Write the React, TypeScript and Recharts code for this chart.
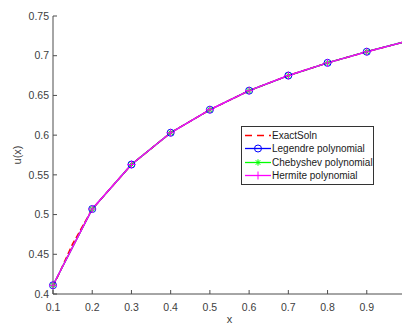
import React from 'react';
import { LineChart, Line, XAxis, YAxis, Legend } from 'recharts';

// x positions of the collocation points
const xPoints = [0.1, 0.2, 0.3, 0.4, 0.5, 0.6, 0.7, 0.8, 0.9, 1.0];
const legendreVals = [0.411, 0.507, 0.563, 0.603, 0.632, 0.656, 0.675, 0.691, 0.705, 0.718];
const chebyshevVals = [0.411, 0.507, 0.563, 0.603, 0.632, 0.656, 0.675, 0.691, 0.705, 0.718];
const hermiteVals = [0.411, 0.507, 0.563, 0.603, 0.632, 0.656, 0.675, 0.691, 0.705, 0.718];

// exact solution, sampled a bit finer near the start
const exactX = [0.1, 0.15, 0.2, 0.3, 0.4, 0.5, 0.6, 0.7, 0.8, 0.9, 1.0];
const exactVals = [0.409, 0.463, 0.507, 0.563, 0.603, 0.632, 0.656, 0.675, 0.691, 0.705, 0.718];

// the axis runs to 1, but the figure is cropped before the last label
const xTicks = [0.1, 0.2, 0.3, 0.4, 0.5, 0.6, 0.7, 0.8, 0.9];
const yTicks = [0.4, 0.45, 0.5, 0.55, 0.6, 0.65, 0.7, 0.75];

const legendreData = xPoints.map((x, i) => ({ x, y: legendreVals[i] }));
const chebyshevData = xPoints.map((x, i) => ({ x, y: chebyshevVals[i] }));
const hermiteData = xPoints.map((x, i) => ({ x, y: hermiteVals[i] }));
const exactData = exactX.map((x, i) => ({ x, y: exactVals[i] }));

const FONT = '"Liberation Sans", Arial, sans-serif';
const AXIS = '#4d4d4d';
const TEXT = '#404040';

const CircleMark = ({ cx, cy }: any) => (
  <circle cx={cx} cy={cy} r={3.5} fill="none" stroke="#0000ff" strokeWidth={1} />
);

const StarMark = ({ cx, cy }: any) => {
  const s = 3.2;
  const d = s * 0.7;
  return (
    <g stroke="#00ff00" strokeWidth={1}>
      <line x1={cx - s} y1={cy} x2={cx + s} y2={cy} />
      <line x1={cx} y1={cy - s} x2={cx} y2={cy + s} />
      <line x1={cx - d} y1={cy - d} x2={cx + d} y2={cy + d} />
      <line x1={cx - d} y1={cy + d} x2={cx + d} y2={cy - d} />
    </g>
  );
};

const PlusMark = ({ cx, cy }: any) => {
  const s = 4;
  return (
    <g stroke="#ff00ff" strokeWidth={1}>
      <line x1={cx - s} y1={cy} x2={cx + s} y2={cy} />
      <line x1={cx} y1={cy - s} x2={cx} y2={cy + s} />
    </g>
  );
};

const legendItems = [
  { name: 'ExactSoln', color: '#ff0000', dash: '7 5', Mark: null },
  { name: 'Legendre polynomial', color: '#0000ff', dash: undefined, Mark: CircleMark },
  { name: 'Chebyshev polynomial', color: '#00ff00', dash: undefined, Mark: StarMark },
  { name: 'Hermite polynomial', color: '#ff00ff', dash: undefined, Mark: PlusMark },
];

const LegendBox = () => (
  <div
    style={{
      width: 131,
      height: 55,
      border: '1px solid #333',
      background: '#fff',
      paddingTop: 2,
      boxSizing: 'content-box',
      fontFamily: FONT,
      fontSize: 10,
      color: '#1a1a1a',
    }}
  >
    {legendItems.map(({ name, color, dash, Mark }) => (
      <div key={name} style={{ display: 'flex', alignItems: 'center', height: 13.3 }}>
        <svg width={30} height={13} style={{ flex: 'none' }}>
          <line x1={3} y1={6.5} x2={29} y2={6.5} stroke={color} strokeWidth={1.3} strokeDasharray={dash} />
          {Mark && <Mark cx={16} cy={6.5} />}
        </svg>
        <span style={{ whiteSpace: 'nowrap' }}>{name}</span>
      </div>
    ))}
  </div>
);

const YTitle = ({ viewBox }: any) => {
  const x = viewBox.x + 17;
  const y = viewBox.y + viewBox.height / 2;
  return (
    <text x={x} y={y} transform={`rotate(-90 ${x} ${y})`} textAnchor="middle" dominantBaseline="central"
      fontFamily={FONT} fontSize={11} fill={TEXT}>
      u(x)
    </text>
  );
};

const XTitle = ({ viewBox }: any) => (
  <text x={viewBox.x + viewBox.width / 2} y={viewBox.y + 28.5} textAnchor="middle"
    fontFamily={FONT} fontSize={11} fill={TEXT}>
    x
  </text>
);

const tickStyle = { fill: TEXT, fontSize: 10.5, fontFamily: FONT };

export default function App() {
  return (
    <div style={{ position: 'fixed', left: 0, top: 0, width: 402, height: 324, overflow: 'hidden', background: '#fff' }}>
      <LineChart width={420} height={340} margin={{ top: 16, right: 14, bottom: 16, left: 0 }}>
        <XAxis xAxisId="b" dataKey="x" type="number" domain={[0.1, 1]} ticks={xTicks} height={30}
          stroke={AXIS} tickSize={-4} tickMargin={14} tick={tickStyle} label={<XTitle />} />
        <XAxis xAxisId="t" orientation="top" dataKey="x" type="number" domain={[0.1, 1]} ticks={xTicks}
          height={0} stroke={AXIS} tickSize={-4} tickFormatter={() => ''} />
        <YAxis yAxisId="l" type="number" domain={[0.4, 0.75]} ticks={yTicks} width={53}
          stroke={AXIS} tickSize={-4} tickMargin={8} tick={tickStyle} label={<YTitle />} />
        <YAxis yAxisId="r" orientation="right" type="number" domain={[0.4, 0.75]} ticks={yTicks} width={0}
          stroke={AXIS} tickSize={-4} tickFormatter={() => ''} />
        <Legend layout="vertical" align="center" verticalAlign="middle" content={<LegendBox />}
          wrapperStyle={{ left: 241, top: 126, width: 133 }} />
        <Line xAxisId="b" yAxisId="l" data={exactData} dataKey="y" name="ExactSoln" stroke="#ff0000"
          strokeWidth={1.5} strokeDasharray="6 3" dot={false} isAnimationActive={false} />
        <Line xAxisId="b" yAxisId="l" data={legendreData} dataKey="y" name="Legendre polynomial" stroke="#0000ff"
          strokeWidth={1.3} dot={(p: any) => <CircleMark key={p.index} {...p} />} isAnimationActive={false} />
        <Line xAxisId="b" yAxisId="l" data={chebyshevData} dataKey="y" name="Chebyshev polynomial" stroke="#00ff00"
          strokeWidth={1.3} dot={(p: any) => <StarMark key={p.index} {...p} />} isAnimationActive={false} />
        <Line xAxisId="b" yAxisId="l" data={hermiteData} dataKey="y" name="Hermite polynomial" stroke="#ff00ff"
          strokeWidth={1.5} dot={(p: any) => <PlusMark key={p.index} {...p} />} isAnimationActive={false} />
      </LineChart>
    </div>
  );
}
